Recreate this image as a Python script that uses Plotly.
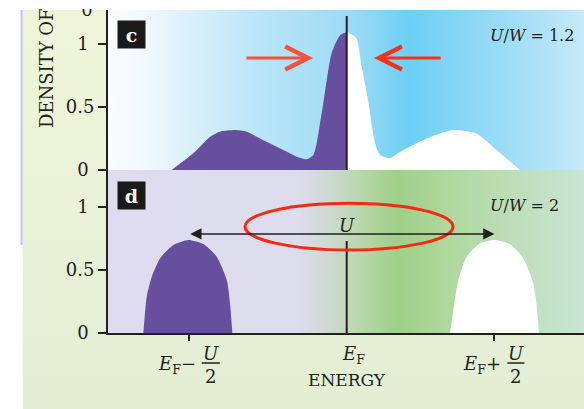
import plotly.graph_objects as go

# ---------------- data ----------------
# energy axis: E_F = 0, lower Hubbard-band centre at E_F - U/2 = -1
xtick_vals = [-1.0, 0.935]            # E_F - U/2, E_F + U/2
fermi_energy = 0.0
ytick_vals = [0, 0.5, 1]
ytick_text = ["0\u00a0", "0.5", "1\u00a0"]

# panel c, U/W = 1.2 : occupied (below E_F) and empty (above E_F) states
c_occ_energy = [-1.108, -0.971, -0.865, -0.802, -0.707, -0.633, -0.549, -0.401,
                -0.316, -0.253, -0.211, -0.190, -0.169, -0.148, -0.095, -0.042, 0.0]
c_occ_dos = [0, 0.132, 0.264, 0.304, 0.317, 0.304, 0.251, 0.159,
             0.106, 0.085, 0.119, 0.212, 0.37, 0.53, 0.93, 1.07, 1.095]
c_emp_energy = [0.0, 0.06, 0.095, 0.135, 0.18, 0.21, 0.274, 0.34, 0.485,
                0.59, 0.673, 0.823, 0.949, 1.097]
c_emp_dos = [1.095, 1.05, 0.82, 0.556, 0.21, 0.12, 0.095, 0.145, 0.238,
             0.29, 0.317, 0.29, 0.159, 0]

# panel d, U/W = 2 : lower (occupied) and upper (empty) Hubbard bands
d_low_energy = [-1.287, -1.266, -1.234, -1.182, -1.097, -1.003, -0.908,
                -0.823, -0.759, -0.739, -0.724]
d_low_dos = [0, 0.288, 0.447, 0.592, 0.698, 0.738, 0.706, 0.606, 0.42, 0.238, 0]
d_up_energy = [0.654, 0.675, 0.706, 0.759, 0.844, 0.939, 1.033, 1.118,
               1.181, 1.203, 1.217]
d_up_dos = [0, 0.183, 0.42, 0.606, 0.712, 0.738, 0.706, 0.592, 0.394, 0.209, 0]

# ---------------- layout constants ----------------
W, H = 584, 409
def px(x):
    return x / W
def py(y):
    return 1 - y / H

FONT = "DejaVu Serif"
INK = "#231f20"
PURPLE = "#674f9f"
XMIN, XMAX = -1.511, 1.502
YC_TOP, YD_TOP = 1.27, 1.294

C_BG = [[0.0, "#fbfdff"], [0.088, "#eef8fd"], [0.193, "#d5eff9"], [0.298, "#bde6f8"],
        [0.45, "#a6def6"], [0.53, "#97d9f6"], [0.634, "#6ccff4"], [0.761, "#8bd7f5"],
        [0.887, "#a9e0f7"], [1.0, "#c6eaf9"]]
D_BG = [[0.0, "#dfdcef"], [0.403, "#dcdcec"], [0.466, "#ced9cf"], [0.529, "#b9d7ad"],
        [0.607, "#9fcf88"], [0.733, "#b1d9a1"], [0.872, "#bfdfbd"], [1.0, "#c9e5d3"]]
BACK_BG = [[0.0, "#e3eed5"], [1.0, "#f0f5d9"]]

fig = go.Figure()

# backdrop (paper-like) on a hidden full-size subplot
bx0, by1 = 22.7 / W, py(10)
fig.add_trace(go.Scatter(x=[bx0, 1, 1, bx0, bx0], y=[0, 0, by1, by1, 0], xaxis="x", yaxis="y",
                         mode="none", fill="toself",
                         fillgradient=dict(type="vertical", colorscale=BACK_BG, start=0, stop=by1),
                         hoverinfo="skip", showlegend=False))

# panel c background
fig.add_trace(go.Scatter(x=[XMIN, XMAX, XMAX, XMIN, XMIN], y=[0, 0, YC_TOP, YC_TOP, 0],
                         xaxis="x2", yaxis="y2", mode="none", fill="toself",
                         fillgradient=dict(type="horizontal", colorscale=C_BG, start=XMIN, stop=XMAX),
                         hoverinfo="skip", showlegend=False))
fig.add_trace(go.Scatter(x=c_occ_energy, y=c_occ_dos, xaxis="x2", yaxis="y2", mode="lines",
                         line=dict(width=0, shape="spline", smoothing=0.6, color=PURPLE),
                         fill="tozeroy", fillcolor=PURPLE, hoverinfo="skip", showlegend=False))
fig.add_trace(go.Scatter(x=c_emp_energy, y=c_emp_dos, xaxis="x2", yaxis="y2", mode="lines",
                         line=dict(width=0, shape="spline", smoothing=0.6, color="white"),
                         fill="tozeroy", fillcolor="white", hoverinfo="skip", showlegend=False))

# panel d background
fig.add_trace(go.Scatter(x=[XMIN, XMAX, XMAX, XMIN, XMIN], y=[0, 0, YD_TOP, YD_TOP, 0],
                         xaxis="x3", yaxis="y3", mode="none", fill="toself",
                         fillgradient=dict(type="horizontal", colorscale=D_BG, start=XMIN, stop=XMAX),
                         hoverinfo="skip", showlegend=False))
fig.add_trace(go.Scatter(x=d_low_energy, y=d_low_dos, xaxis="x3", yaxis="y3", mode="lines",
                         line=dict(width=0, shape="spline", smoothing=0.6, color=PURPLE),
                         fill="tozeroy", fillcolor=PURPLE, hoverinfo="skip", showlegend=False))
fig.add_trace(go.Scatter(x=d_up_energy, y=d_up_dos, xaxis="x3", yaxis="y3", mode="lines",
                         line=dict(width=0, shape="spline", smoothing=0.6, color="white"),
                         fill="tozeroy", fillcolor="white", hoverinfo="skip", showlegend=False))

yaxis_style = dict(showline=True, linewidth=2, linecolor=INK, ticks="outside", ticklen=8,
                   tickwidth=1.5, tickcolor=INK, tickvals=ytick_vals, ticktext=ytick_text,
                   tickfont=dict(family=FONT, size=18, color=INK), showgrid=False,
                   zeroline=False, fixedrange=True, ticklabelstandoff=0, automargin=False)

fig.update_layout(
    width=W, height=H, autosize=False, margin=dict(l=0, r=0, t=0, b=0, pad=0),
    paper_bgcolor="white", plot_bgcolor="rgba(0,0,0,0)",
    xaxis=dict(domain=[0, 1], range=[0, 1], visible=False, fixedrange=True),
    yaxis=dict(domain=[0, 1], range=[0, 1], visible=False, fixedrange=True),
    xaxis2=dict(domain=[px(108), 1], range=[XMIN, XMAX], anchor="y2", visible=False,
                fixedrange=True),
    yaxis2=dict(domain=[py(170), py(10)], range=[0, YC_TOP], anchor="x2", **yaxis_style),
    xaxis3=dict(domain=[px(108), 1], range=[XMIN, XMAX], anchor="y3", showline=True,
                linewidth=2, linecolor=INK, ticks="outside", ticklen=6, tickwidth=1.5,
                tickcolor=INK, tickvals=xtick_vals, showticklabels=False, showgrid=False,
                zeroline=False, fixedrange=True, automargin=False),
    yaxis3=dict(domain=[py(333), py(170)], range=[0, YD_TOP], anchor="x3", **yaxis_style),
    showlegend=False,
)

shapes = []
# Fermi-level lines
shapes.append(dict(type="line", xref="x2", yref="y2", x0=fermi_energy, x1=fermi_energy,
                   y0=0, y1=1.222, line=dict(color=INK, width=2), layer="above"))
shapes.append(dict(type="line", xref="x3", yref="y3", x0=fermi_energy, x1=fermi_energy,
                   y0=0, y1=0.73, line=dict(color=INK, width=2), layer="above"))
# red ellipse around U
shapes.append(dict(type="circle", xref="x3", yref="y3", x0=-0.644, x1=0.673, y0=0.659, y1=1.03,
                   line=dict(color="#f42a12", width=3), layer="above"))
# lavender strip on the left
shapes.append(dict(type="rect", xref="paper", yref="paper", x0=px(20.5), x1=px(22.7),
                   y0=py(245), y1=py(10), line=dict(width=0), fillcolor="#c9c8ea", layer="above"))
# fraction bars of the tick labels
for tv, (a, b) in zip(xtick_vals, [(13, 31), (13, 30)]):
    shapes.append(dict(type="line", xref="x3", yref="paper", xsizemode="pixel", xanchor=tv,
                       x0=a, x1=b, y0=py(363), y1=py(363), line=dict(color=INK, width=1.5),
                       layer="above"))
# rotated y title and clipped top tick label (as shape labels, so they can be clipped)
shapes.append(dict(type="rect", xref="paper", yref="paper", x0=px(35), x1=px(56),
                   y0=py(39), y1=py(19), line=dict(width=0), fillcolor="rgba(0,0,0,0)",
                   layer="above",
                   label=dict(text="DENSITY OF STATES", textangle=-90, textposition="middle center",
                              font=dict(family=FONT, size=18, color=INK))))
shapes.append(dict(type="rect", xref="paper", yref="paper", x0=px(77), x1=px(97),
                   y0=py(18), y1=py(-1), line=dict(width=0), fillcolor="rgba(0,0,0,0)",
                   layer="above",
                   label=dict(text="0", textposition="middle center",
                              font=dict(family=FONT, size=18, color=INK))))
# white strip clipping the top of the page
shapes.append(dict(type="rect", xref="paper", yref="paper", x0=0, x1=1, y0=py(9), y1=1.01,
                   line=dict(width=0), fillcolor="white", layer="above"))
fig.update_layout(shapes=shapes)

ann = []
def note(**kw):
    kw.setdefault("showarrow", False)
    kw.setdefault("xanchor", "center")
    kw.setdefault("yanchor", "middle")
    ann.append(kw)

# panel letters
for letter, cy in [("c", 34), ("d", 195.5)]:
    note(xref="paper", yref="paper", x=px(131.5), y=py(cy), text="<b>%s</b>" % letter,
         bgcolor="#1a1a1a", width=27, height=27, borderpad=0,
         font=dict(family=FONT, size=19, color="white"))
# U/W labels
note(xref="paper", yref="paper", x=px(488), y=py(35), xanchor="left",
     text="<i>U</i>/<i>W</i> = 1.2", font=dict(family=FONT, size=16, color=INK))
note(xref="paper", yref="paper", x=px(488), y=py(205), xanchor="left",
     text="<i>U</i>/<i>W</i> = 2", font=dict(family=FONT, size=16, color=INK))
# red arrows in panel c
note(xref="x2", yref="y2", axref="x2", ayref="y2", x=-0.213, y=0.889, ax=-0.644,
     ay=0.889, text="", showarrow=True, arrowhead=5, arrowsize=1.5, arrowwidth=3,
     arrowcolor="#f4513d")
note(xref="x2", yref="y2", axref="x2", ayref="y2", x=0.173, y=0.889, ax=0.604,
     ay=0.889, text="", showarrow=True, arrowhead=5, arrowsize=1.5, arrowwidth=3,
     arrowcolor="#f2321a")
# double arrow U in panel d
note(xref="x3", yref="y3", axref="x3", ayref="y3", x=xtick_vals[1], y=0.786,
     ax=xtick_vals[0], ay=0.786, text="", showarrow=True, arrowside="end+start",
     arrowhead=2, startarrowhead=2, arrowsize=1.5, startarrowsize=1.5,
     arrowwidth=1.5, arrowcolor=INK)
note(xref="x3", yref="y3", x=fermi_energy, y=0.857, text="<i>U</i>",
     font=dict(family=FONT, size=18, color=INK))
# x tick labels
for tv, sign, fx in [(xtick_vals[0], "\u2212", 22), (xtick_vals[1], "+", 21.5)]:
    note(xref="x3", yref="paper", x=tv, y=py(365), xanchor="right",
         xshift=9, text="<i>E</i><sub>F</sub>" + sign,
         font=dict(family=FONT, size=18, color=INK))
    note(xref="x3", yref="paper", x=tv, y=py(353), xshift=fx, text="<i>U</i>",
         font=dict(family=FONT, size=18, color=INK))
    note(xref="x3", yref="paper", x=tv, y=py(376), xshift=fx, text="2",
         font=dict(family=FONT, size=18, color=INK))
note(xref="x3", yref="paper", x=fermi_energy, y=py(355), xshift=7,
     text="<i>E</i><sub>F</sub>", font=dict(family=FONT, size=18, color=INK))
note(xref="x3", yref="paper", x=fermi_energy, y=py(380), text="ENERGY",
     font=dict(family=FONT, size=17, color=INK))
fig.update_layout(annotations=ann)

fig.write_html("out.html")
